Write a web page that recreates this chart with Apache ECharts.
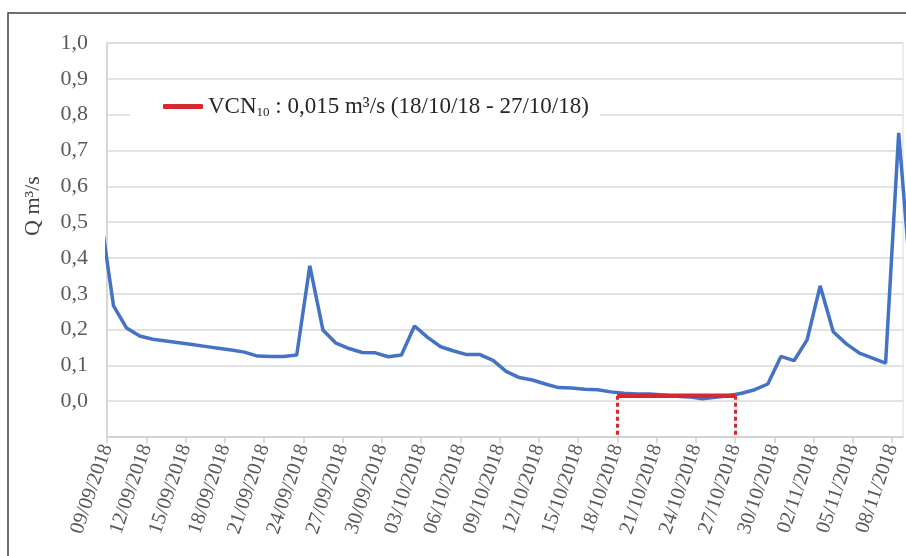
<!DOCTYPE html>
<html><head><meta charset="utf-8">
<script src="https://cdn.jsdelivr.net/npm/echarts@6/dist/echarts.min.js"></script>
<style>html,body{margin:0;padding:0;background:#fff}#c{width:906px;height:556px}</style>
</head><body><div id="c"></div>
<script>
// ---- data ----
const axisStartDate = '2018-09-09';       // left edge of the date axis
const firstFlowDate = '2018-09-08';       // first daily value (partly outside the visible window)
// daily discharge Q (m3/s), one value per day starting at firstFlowDate
const flow = [
  0.52,
  0.266, 0.204, 0.182, 0.173, 0.168, 0.163, 0.158, 0.153, 0.148, 0.143,
  0.137, 0.126, 0.125, 0.125, 0.129, 0.378, 0.199, 0.162, 0.147, 0.136,
  0.135, 0.124, 0.129, 0.210, 0.178, 0.152, 0.140, 0.130, 0.130, 0.114,
  0.083, 0.066, 0.059, 0.048, 0.038, 0.037, 0.033, 0.032, 0.026, 0.022,
  0.020, 0.020, 0.017, 0.014, 0.012, 0.007, 0.011, 0.015, 0.022, 0.032,
  0.048, 0.125, 0.113, 0.171, 0.322, 0.194, 0.160, 0.134, 0.120, 0.106,
  0.749, 0.30
];
const xTickLabels = ['09/09/2018','12/09/2018','15/09/2018','18/09/2018','21/09/2018','24/09/2018',
  '27/09/2018','30/09/2018','03/10/2018','06/10/2018','09/10/2018','12/10/2018','15/10/2018',
  '18/10/2018','21/10/2018','24/10/2018','27/10/2018','30/10/2018','02/11/2018','05/11/2018','08/11/2018'];
const yTickLabels = ['0,0','0,1','0,2','0,3','0,4','0,5','0,6','0,7','0,8','0,9','1,0'];
const vcnStart = '2018-10-18';
const vcnEnd = '2018-10-27';
const vcnValue = 0.015;
const vcnLabel = ' : 0,015 m³/s (18/10/18 - 27/10/18)';

// ---- helpers ----
const DAY = 86400000;
function dayIndex(s){ return (Date.parse(s+'T00:00:00Z') - Date.parse(axisStartDate+'T00:00:00Z'))/DAY; }
const flowStart = dayIndex(firstFlowDate);
const flowData = flow.map((v,i)=>[flowStart + i + 0.5, v]);   // daily values plotted at mid-day
const vs = dayIndex(vcnStart), ve = dayIndex(vcnEnd);
const xMaxDay = 60.83;

const RED = '#d7282f', BLUE = '#4472C4', GRID = '#d9d9d9', TXT = '#595959';
const chart = echarts.init(document.getElementById('c'), null, {renderer:'canvas'});
chart.setOption({
  animation:false,
  backgroundColor:'#fff',
  textStyle:{fontFamily:'Liberation Serif'},
  grid:{left:107, right:3, top:43, bottom:119, show:true, borderColor:GRID, borderWidth:1},
  xAxis:{
    type:'value', min:0, max:xMaxDay, interval:3,
    axisLine:{onZero:false, lineStyle:{color:'#d0d0d0', width:1.5}},
    axisTick:{show:true, length:6, lineStyle:{color:'#d0d0d0', width:1.5}},
    splitLine:{show:false},
    axisLabel:{rotate:71, fontSize:20.5, color:TXT, margin:8, showMaxLabel:false,
      formatter:v=>{ const k=Math.round(v/3); return Math.abs(v-k*3)<1e-6 && xTickLabels[k] ? xTickLabels[k] : ''; }}
  },
  yAxis:{
    type:'value', min:-0.1, max:1.0, interval:0.1,
    axisLine:{show:true, onZero:false, lineStyle:{color:'#d0d0d0', width:1.5}},
    axisTick:{show:false},
    splitLine:{lineStyle:{color:GRID, width:1.5}},
    axisLabel:{fontSize:22, color:TXT, margin:19, showMinLabel:false,
      formatter:v=>{ const k=Math.round(v*10); return (k>=0 && yTickLabels[k]) ? yTickLabels[k] : ''; }}
  },
  legend:{
    left:130, top:83, padding:[12,11,12,33], backgroundColor:'#fff',
    itemWidth:40, itemHeight:5, itemGap:0,
    data:[{name:'VCN', icon:'roundRect'}],
    formatter:()=> '{a|VCN}{s|10}{a|'+vcnLabel+'}',
    textStyle:{rich:{
      a:{fontSize:23, fontFamily:'Liberation Serif', color:'#262626', lineHeight:26},
      s:{fontSize:13, fontFamily:'Liberation Serif', color:'#262626', verticalAlign:'bottom'}
    }}
  },
  series:[
    {type:'line', name:'Q', data:flowData, showSymbol:false, clip:true, z:2,
     lineStyle:{color:BLUE, width:3.5}, itemStyle:{color:BLUE}},
    {type:'line', name:'VCN', data:[[vs,vcnValue],[ve,vcnValue]], showSymbol:false, z:3,
     color:RED, lineStyle:{color:RED, width:4.5}, itemStyle:{color:RED},
     markLine:{silent:true, symbol:'none', label:{show:false},
       lineStyle:{color:RED, width:3, type:[4,3]},
       data:[[{coord:[vs,vcnValue]},{coord:[vs,-0.1]}],[{coord:[ve,vcnValue]},{coord:[ve,-0.1]}]]}}
  ],
  graphic:[
    {type:'rect', silent:true, shape:{x:8,y:13,width:1000,height:700}, style:{fill:'none', stroke:'#404040', lineWidth:1.5}},
    {type:'text', silent:true, x:33, y:206, rotation:Math.PI/2,
     style:{text:'Q m³/s', font:'22px "Liberation Serif"', fill:'#404040', align:'center', verticalAlign:'middle'}}
  ]
});
</script></body></html>
